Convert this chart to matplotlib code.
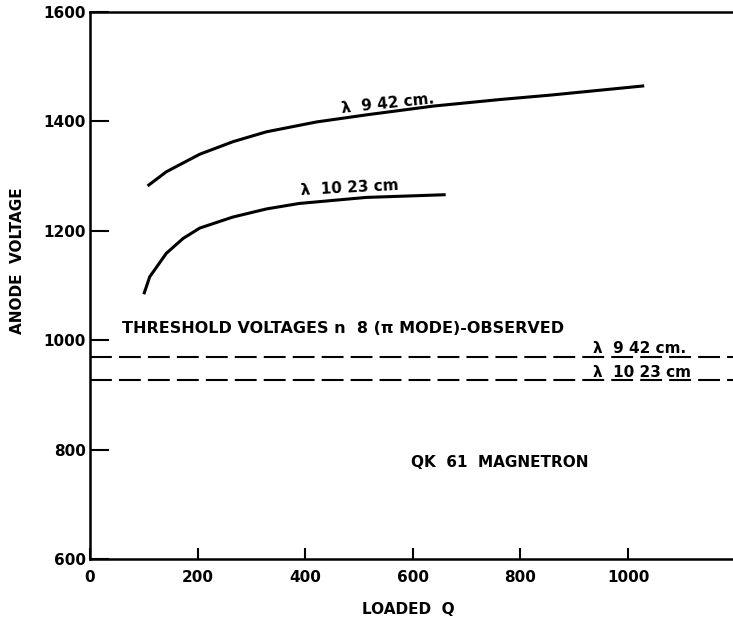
import matplotlib
matplotlib.use("Agg")
import matplotlib.pyplot as plt

# Data
q_942 = [107, 142, 204, 266, 328, 421, 514, 638, 762, 855, 1030]
v_942 = [1282, 1308, 1340, 1363, 1381, 1399, 1412, 1428, 1440, 1448, 1465]
q_1023 = [100, 111, 142, 173, 204, 265, 328, 389, 513, 661]
v_1023 = [1084, 1116, 1159, 1186, 1205, 1225, 1240, 1250, 1261, 1266]
threshold_942 = 970
threshold_1023 = 927
x_ticks = [0, 200, 400, 600, 800, 1000]
y_ticks = [600, 800, 1000, 1200, 1400, 1600]

plt.rcParams['font.family'] = ['DejaVu Sans']
plt.rcParams['font.weight'] = 'bold'

fig = plt.figure(figsize=(7.33, 6.22), dpi=100)
ax = fig.add_axes([90/733, 1-559/622, 1-90/733, (559-12)/622])

ax.plot(q_942, v_942, color='black', lw=2.2, solid_capstyle='butt')
ax.plot(q_1023, v_1023, color='black', lw=2.2, solid_capstyle='butt')
ax.axhline(threshold_942, color='black', lw=1.5, linestyle=(0, (10.5, 3.4)))
ax.axhline(threshold_1023, color='black', lw=1.5, linestyle=(0, (10.5, 3.4)))

ax.set_xlim(0, 1195)
ax.set_ylim(600, 1600)
ax.set_xticks(x_ticks)
ax.set_yticks(y_ticks)
ax.tick_params(axis='y', direction='in', length=14, width=1.5, pad=3, labelsize=11)
ax.tick_params(axis='x', direction='in', length=8, width=1.5, pad=8, labelsize=11)
for lab in ax.get_xticklabels() + ax.get_yticklabels():
    lab.set_fontweight('bold')

ax.spines['right'].set_visible(False)
for s in ['left', 'bottom', 'top']:
    ax.spines[s].set_linewidth(1.8)

fig.text(408/733, 1-610/622, 'LOADED  Q', fontsize=11, fontweight='bold', ha='center', va='center')
fig.text(18/733, 1-261/622, 'ANODE  VOLTAGE', fontsize=11, fontweight='bold', ha='center', va='center',
         rotation=90)

ax.text(554, 1433, 'λ  9 42 cm.', fontsize=11, fontweight='bold', ha='center', va='center', rotation=6)
ax.text(483, 1279, 'λ  10 23 cm', fontsize=11, fontweight='bold', ha='center', va='center', rotation=3)
ax.text(60, 1021, 'THRESHOLD VOLTAGES n  8 (π MODE)-OBSERVED', fontsize=11.5, fontweight='bold',
        ha='left', va='center')
ax.text(935, threshold_942 + 1, 'λ  9 42 cm.', fontsize=11, fontweight='bold', ha='left', va='bottom')
ax.text(935, threshold_1023 + 1, 'λ  10 23 cm', fontsize=11, fontweight='bold', ha='left', va='bottom')
ax.text(761, 777, 'QK  61  MAGNETRON', fontsize=11, fontweight='bold', ha='center', va='center')

fig.savefig('out.png', dpi=100)
